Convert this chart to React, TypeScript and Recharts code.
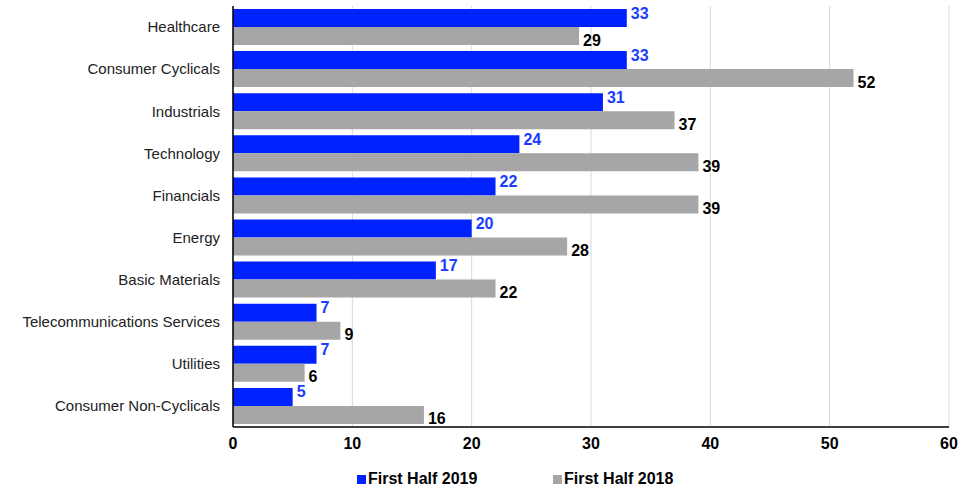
import { Bar, BarChart, CartesianGrid, LabelList, Legend, XAxis, YAxis } from "recharts";

const sectors = [
  "Healthcare",
  "Consumer Cyclicals",
  "Industrials",
  "Technology",
  "Financials",
  "Energy",
  "Basic Materials",
  "Telecommunications Services",
  "Utilities",
  "Consumer Non-Cyclicals",
];
const half2019 = [33, 33, 31, 24, 22, 20, 17, 7, 7, 5];
const half2018 = [29, 52, 37, 39, 39, 28, 22, 9, 6, 16];
const xTicks = [0, 10, 20, 30, 40, 50, 60];

const rows = sectors.map((sector, i) => ({
  sector,
  h2019: half2019[i],
  h2018: half2018[i],
}));

const FONT = "'Liberation Sans', Arial, sans-serif";
const BLUE = "#0022ff";
const GRAY = "#a6a6a6";

const legendItems = [
  { name: "First Half 2019", color: BLUE },
  { name: "First Half 2018", color: GRAY },
];

function makeLabel(color: string, dy: number) {
  return (props: any) => {
    const { x, y, width, height, value } = props;
    return (
      <text
        x={x + width + 4}
        y={y + height / 2 + dy}
        fill={color}
        fontSize={16}
        fontWeight="bold"
        fontFamily={FONT}
        dominantBaseline="central"
      >
        {value}
      </text>
    );
  };
}

function LegendContent() {
  return (
    <div
      style={{
        display: "flex",
        paddingLeft: 357,
        paddingTop: 13,
        fontFamily: FONT,
        fontSize: 16,
        fontWeight: "bold",
      }}
    >
      {legendItems.map((item) => (
        <div key={item.name} style={{ display: "flex", alignItems: "center", width: 196 }}>
          <span style={{ width: 9, height: 9, background: item.color, marginRight: 2, marginTop: 1 }} />
          <span style={{ color: "#000" }}>{item.name}</span>
        </div>
      ))}
    </div>
  );
}

export default function App() {
  return (
    <div style={{ position: "absolute", left: 0, top: 0, fontFamily: FONT }}>
      <BarChart
        width={978}
        height={492}
        data={rows}
        layout="vertical"
        margin={{ top: 6, right: 29, bottom: 0, left: 0 }}
        barCategoryGap={3}
        barGap={0}
      >
        <CartesianGrid horizontal={false} stroke="#d9d9d9" strokeWidth={1} />
        <XAxis
          type="number"
          domain={[0, 60]}
          ticks={xTicks}
          interval={0}
          axisLine={{ stroke: "#000", strokeWidth: 1.5 }}
          tickLine={false}
          tick={{ fill: "#000", fontSize: 16, fontWeight: "bold", fontFamily: FONT }}
          tickMargin={5}
          height={33}
        />
        <YAxis
          type="category"
          dataKey="sector"
          width={233}
          axisLine={{ stroke: "#000", strokeWidth: 1.5 }}
          tickLine={false}
          tick={{ fill: "#222", fontSize: 15, fontFamily: FONT }}
          tickMargin={7}
        />
        <Legend
          verticalAlign="bottom"
          height={32}
          content={<LegendContent />}
          wrapperStyle={{ left: 0, width: 978, bottom: 3 }}
        />
        <Bar dataKey="h2019" name="First Half 2019" fill={BLUE} isAnimationActive={false}>
          <LabelList dataKey="h2019" content={makeLabel("#1a3cff", -5)} />
        </Bar>
        <Bar dataKey="h2018" name="First Half 2018" fill={GRAY} isAnimationActive={false}>
          <LabelList dataKey="h2018" content={makeLabel("#000", 4)} />
        </Bar>
      </BarChart>
    </div>
  );
}
